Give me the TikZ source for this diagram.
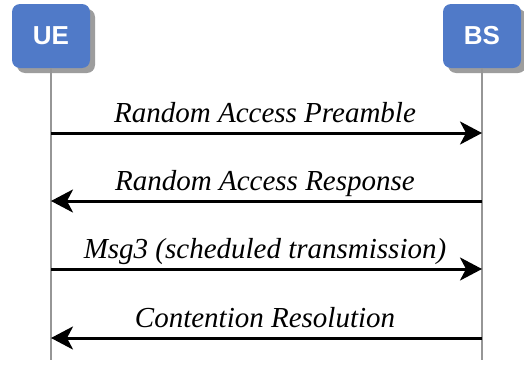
\documentclass[tikz,border=0pt]{standalone}
\usepackage{fontspec}
\setmainfont{Liberation Serif}
\setsansfont{Liberation Sans}
\usetikzlibrary{arrows.meta,shadows}
\definecolor{boxblue}{RGB}{80,122,200}
\definecolor{lifegray}{RGB}{150,150,150}
\begin{document}
\begin{tikzpicture}[x=1pt,y=-1pt,
  entity/.style={rectangle,rounded corners=8pt,fill=boxblue,minimum width=78pt,minimum height=64pt,
    text=white,font=\sffamily\bfseries\fontsize{26}{28}\selectfont,
    drop shadow={shadow xshift=5pt,shadow yshift=-5pt,opacity=0.55,fill=black!70}},
  lifeline/.style={draw=lifegray,line width=1.6pt},
  msg/.style={line width=3pt,-{Stealth[length=22pt,width=23pt,inset=6pt]}},
  lbl/.style={font=\itshape\fontsize{29}{32}\selectfont,anchor=base}]
\useasboundingbox (0,0) rectangle (524,364);
\node[entity] (ue) at (51,36) {UE};
\node[entity] (bs) at (482,36) {BS};
\coordinate (ueend) at (51,360);
\coordinate (bsend) at (482,360);
\draw[lifeline] (ue.south) -- (ueend);
\draw[lifeline] (bs.south) -- (bsend);
\coordinate (u1) at (51,133); \coordinate (b1) at (482,133);
\coordinate (u2) at (51,201); \coordinate (b2) at (482,201);
\coordinate (u3) at (51,269); \coordinate (b3) at (482,269);
\coordinate (u4) at (51,338); \coordinate (b4) at (482,338);
\draw[msg] (u1) -- (b1);
\draw[msg] (b2) -- (u2);
\draw[msg] (u3) -- (b3);
\draw[msg] (b4) -- (u4);
\node[lbl] (t1) at (265,122) {Random Access Preamble};
\node[lbl] (t2) at (265,190) {Random Access Response};
\node[lbl] (t3) at (265,258) {Msg3 (scheduled transmission)};
\node[lbl] (t4) at (265,327) {Contention Resolution};
\end{tikzpicture}
\end{document}
